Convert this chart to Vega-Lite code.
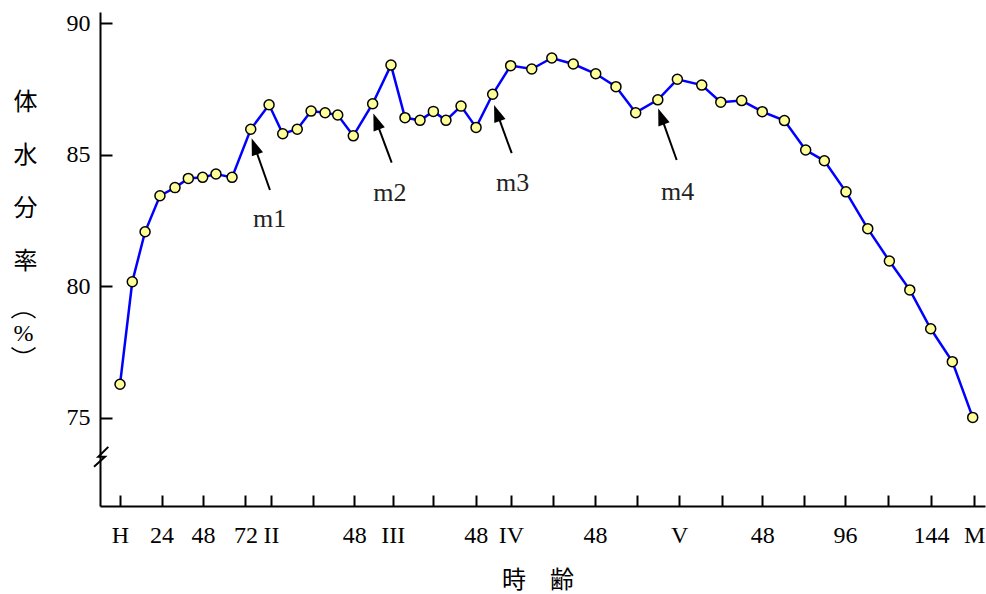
{
  "$schema": "https://vega.github.io/schema/vega-lite/v6.json",
  "width": 885,
  "height": 494,
  "autosize": {"type": "none"},
  "padding": {"left": 100, "top": 12, "right": 1, "bottom": 88},
  "background": "white",
  "config": {"view": {"stroke": null}},
  "datasets": {
    "water": [
      {"h": 0, "v": 76.27}, {"h": 7.1, "v": 80.17}, {"h": 14.5, "v": 82.07}, {"h": 23.1, "v": 83.44},
      {"h": 31.8, "v": 83.75}, {"h": 39.5, "v": 84.10}, {"h": 47.8, "v": 84.14}, {"h": 55.5, "v": 84.27},
      {"h": 64.8, "v": 84.14}, {"h": 75.6, "v": 85.97}, {"h": 86.2, "v": 86.90}, {"h": 94.1, "v": 85.80},
      {"h": 102.5, "v": 85.97}, {"h": 110.5, "v": 86.66}, {"h": 118.6, "v": 86.60}, {"h": 125.9, "v": 86.51},
      {"h": 134.9, "v": 85.72}, {"h": 146.1, "v": 86.94}, {"h": 156.7, "v": 88.41}, {"h": 164.8, "v": 86.41},
      {"h": 173.5, "v": 86.31}, {"h": 181.2, "v": 86.65}, {"h": 188.5, "v": 86.31}, {"h": 197.2, "v": 86.85},
      {"h": 205.9, "v": 86.04}, {"h": 215.5, "v": 87.30}, {"h": 225.9, "v": 88.39}, {"h": 238.1, "v": 88.26},
      {"h": 249.7, "v": 88.68}, {"h": 262.1, "v": 88.45}, {"h": 275.1, "v": 88.08}, {"h": 286.8, "v": 87.59},
      {"h": 298.2, "v": 86.60}, {"h": 311.0, "v": 87.09}, {"h": 322.3, "v": 87.87}, {"h": 336.4, "v": 87.65},
      {"h": 347.4, "v": 87.00}, {"h": 359.5, "v": 87.06}, {"h": 371.4, "v": 86.64}, {"h": 384.2, "v": 86.30},
      {"h": 396.5, "v": 85.18}, {"h": 407.3, "v": 84.77}, {"h": 419.8, "v": 83.59}, {"h": 432.4, "v": 82.19},
      {"h": 444.9, "v": 80.96}, {"h": 456.7, "v": 79.86}, {"h": 468.8, "v": 78.38}, {"h": 481.3, "v": 77.13},
      {"h": 493.1, "v": 75.01}
    ],
    "shafts": [
      {"h": 86.7, "v": 83.66, "h2": 77.8, "v2": 85.32},
      {"h": 157.1, "v": 84.70, "h2": 148.2, "v2": 86.27},
      {"h": 226.5, "v": 85.06, "h2": 218.0, "v2": 86.59},
      {"h": 321.9, "v": 84.80, "h2": 312.9, "v2": 86.46}
    ],
    "heads": [
      {"h": 77.8, "v": 85.32},
      {"h": 148.2, "v": 86.27},
      {"h": 218.0, "v": 86.59},
      {"h": 312.9, "v": 86.46}
    ],
    "labels": [
      {"h": 86.5, "v": 82.54, "label": "m1"},
      {"h": 156.1, "v": 83.53, "label": "m2"},
      {"h": 227.0, "v": 83.91, "label": "m3"},
      {"h": 322.4, "v": 83.60, "label": "m4"}
    ],
    "arcs": [
      {"h": -55.8, "v": 78.89, "part": "open"},
      {"h": -55.8, "v": 77.57, "part": "close"}
    ],
    "pct": [
      {"h": -55.8, "v": 78.20, "label": "%"}
    ],
    "brk": [
      {"h": -6.77, "v": 73.89, "o": 1},
      {"h": -12.55, "v": 73.51, "o": 2},
      {"h": -8.67, "v": 73.51, "o": 3},
      {"h": -15.04, "v": 73.13, "o": 4}
    ]
  },
  "encoding": {
    "x": {
      "field": "h",
      "type": "quantitative",
      "scale": {"domain": [-11.57, 500.2], "nice": false, "zero": false},
      "axis": {
        "title": "時　齢",
        "titleFont": "Noto Sans CJK JP",
        "titleFontSize": 24,
        "titleFontWeight": "normal",
        "titleColor": "black",
        "titleBaseline": "alphabetic",
        "titleAlign": "center",
        "titleX": 437.5,
        "titleY": 81,
        "values": [0, 24, 48, 72.5, 87.3, 111.8, 135.5, 157.7, 181.2, 205.7, 226.1, 250.6, 274.7, 299.2, 323.4, 348, 371.4, 395.7, 419.3, 443.9, 469, 493.9],
        "labelExpr": "['H','24','48','72','II','','48','III','','48','IV','','48','','V','','48','','96','','144','M'][indexof([0,24,48,72.5,87.3,111.8,135.5,157.7,181.2,205.7,226.1,250.6,274.7,299.2,323.4,348,371.4,395.7,419.3,443.9,469,493.9], datum.value)]",
        "labelFont": "Liberation Serif",
        "labelFontSize": 24,
        "labelColor": "black",
        "labelPadding": 28,
        "labelFlush": false,
        "labelOverlap": false,
        "labelBound": false,
        "grid": false,
        "domainColor": "black",
        "domainWidth": 2,
        "tickColor": "black",
        "tickWidth": 2,
        "tickSize": -11
      }
    },
    "y": {
      "field": "v",
      "type": "quantitative",
      "scale": {"domain": [71.64, 90.43], "nice": false, "zero": false},
      "axis": {
        "title": ["体", "水", "分", "率"],
        "titleFont": "Noto Sans CJK JP",
        "titleFontSize": 24,
        "titleFontWeight": "normal",
        "titleColor": "black",
        "titleAngle": 0,
        "titleAlign": "center",
        "titleBaseline": "alphabetic",
        "titleLineHeight": 53,
        "titleX": -75,
        "titleY": 97,
        "values": [75, 80, 85, 90],
        "labelFont": "Liberation Serif",
        "labelFontSize": 24,
        "labelColor": "black",
        "labelPadding": 22,
        "labelFlush": false,
        "grid": false,
        "domainColor": "black",
        "domainWidth": 2,
        "tickColor": "black",
        "tickWidth": 2,
        "tickSize": -12
      }
    }
  },
  "layer": [
    {
      "data": {"name": "water"},
      "mark": {"type": "line", "color": "#0000ff", "strokeWidth": 2.5}
    },
    {
      "data": {"name": "water"},
      "mark": {"type": "point", "filled": true, "fill": "#ffff99", "stroke": "black", "strokeWidth": 1.5, "size": 100, "opacity": 1}
    },
    {
      "data": {"name": "shafts"},
      "mark": {"type": "rule", "color": "black", "strokeWidth": 2},
      "encoding": {"x2": {"field": "h2"}, "y2": {"field": "v2"}}
    },
    {
      "data": {"name": "heads"},
      "mark": {"type": "point", "shape": "M0,-1L0.7,1L-0.7,1Z", "filled": true, "color": "black", "size": 289, "angle": 340, "opacity": 1, "strokeWidth": 0}
    },
    {
      "data": {"name": "labels"},
      "mark": {"type": "text", "font": "Liberation Serif", "fontSize": 26, "baseline": "middle", "align": "center", "color": "#222222"},
      "encoding": {"text": {"field": "label"}}
    },
    {
      "data": {"name": "arcs"},
      "mark": {"type": "point", "filled": false, "fill": null, "stroke": "black", "strokeWidth": 1.5, "size": 576, "opacity": 1, "clip": false},
      "encoding": {
        "shape": {
          "field": "part",
          "type": "nominal",
          "scale": {"domain": ["open", "close"], "range": ["M-1,0.2Q0,-0.6,1,0.2", "M-1,-0.2Q0,0.6,1,-0.2"]},
          "legend": null
        }
      }
    },
    {
      "data": {"name": "pct"},
      "mark": {"type": "text", "font": "Liberation Serif", "fontSize": 24, "baseline": "middle", "align": "center", "color": "black", "clip": false},
      "encoding": {"text": {"field": "label"}}
    },
    {
      "data": {"name": "brk"},
      "mark": {"type": "line", "color": "black", "strokeWidth": 2, "clip": false},
      "encoding": {"order": {"field": "o"}}
    }
  ]
}
